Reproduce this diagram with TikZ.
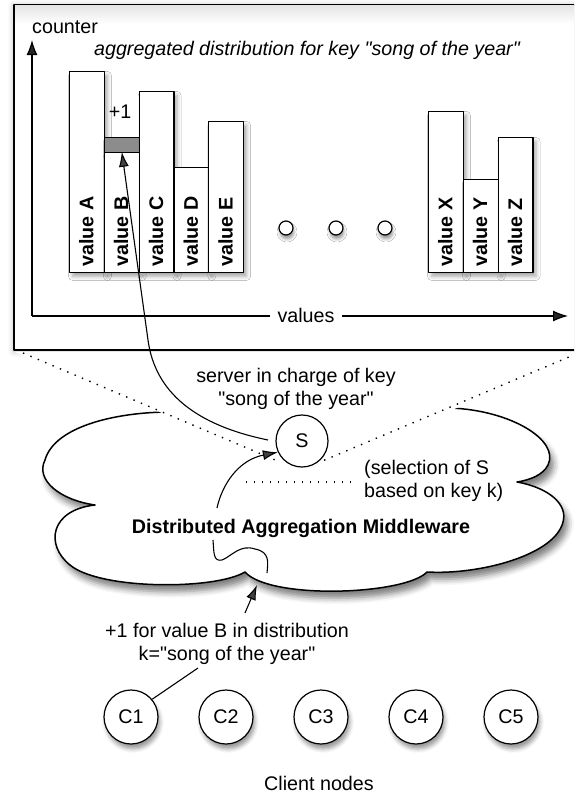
\documentclass[tikz,border=0pt]{standalone}
\usepackage{fontspec}
\setmainfont{Liberation Sans}[Ligatures=TeXOff]
\usetikzlibrary{arrows.meta,shadows,shadows.blur}

\begin{document}
\begin{tikzpicture}[x=1pt,y=-1pt,line join=round,
  every node/.style={font=\fontsize{19.7}{23}\selectfont, inner sep=0pt},
  frame/.style={draw, fill=white, line width=1.3pt,
    blur shadow={shadow xshift=0pt, shadow yshift=-1pt, shadow blur radius=6pt, shadow opacity=30}},
  bar/.style={draw, fill=white, line width=1.2pt, minimum width=34.8pt, anchor=south west,
    blur shadow={shadow xshift=3pt, shadow yshift=-4pt, shadow blur radius=4pt, shadow opacity=35}},
  bartext/.style={rotate=90, anchor=west, font=\fontsize{19.7}{23}\selectfont\bfseries},
  gap/.style={circle, draw, fill=white, line width=1.2pt, minimum size=14pt,
    blur shadow={shadow xshift=1pt, shadow yshift=-4pt, shadow blur radius=3pt, shadow opacity=40}},
  axis/.style={line width=1.2pt, -{Latex[length=15pt,width=11pt]}},
  arr/.style={line width=1.1pt, -{Latex[length=15pt,width=10pt]}},
  link/.style={line width=1.1pt},
  dots/.style={line width=1.4pt, dash pattern=on 1.4pt off 6.6pt},
  cloudshape/.style={draw, fill=white, line width=1.5pt,
    blur shadow={shadow xshift=4pt, shadow yshift=-7pt, shadow blur radius=6pt, shadow opacity=50}},
  peer/.style={circle, draw, fill=white, line width=1.2pt, minimum size=54pt,
    blur shadow={shadow xshift=2pt, shadow yshift=-5pt, shadow blur radius=4pt, shadow opacity=40}},
  server/.style={circle, draw, fill=white, line width=1.2pt, minimum size=52pt}
]
\useasboundingbox (0,0) rectangle (574,798);
\clip (0,0) rectangle (574,798);

% ---------- distribution panel ----------
\draw[frame] (14,5) rectangle (600,350);
\shade[top color=black!10, bottom color=white] (15,5.7) rectangle (574,24);

\coordinate (O) at (32,316);
\coordinate (ytip) at (32,40);
\coordinate (xtip) at (568,316);
\draw[axis] (O) -- (ytip);
\draw[axis] (O) -- (xtip);
\node[fill=white, inner xsep=8pt, inner ysep=3pt] (vals) at (306,315) {values};
\node[anchor=base west] (cnt) at (32,33) {counter};
\node[anchor=base, font=\fontsize{19.7}{23}\selectfont\itshape] (title) at (307,55)
  {aggregated distribution for key "song of the year"};

% bars of the histogram
\node[bar, minimum height=201pt] (bA) at (69,273) {};
\node[bar, minimum height=15pt, fill=black!45] (bBg) at (103.8,153) {};
\node[bar, minimum height=120pt] (bB) at (103.8,273) {};
\node[bar, minimum height=181pt] (bC) at (138.6,273) {};
\node[bar, minimum height=105pt] (bD) at (173.4,273) {};
\node[bar, minimum height=151pt] (bE) at (208.2,273) {};
\node[bar, minimum height=161pt] (bX) at (428,273) {};
\node[bar, minimum height=93pt] (bY) at (462.8,273) {};
\node[bar, minimum height=135pt] (bZ) at (497.6,273) {};

\node[bartext] (tA) at (86.4,267) {value A};
\node[bartext] (tB) at (121.2,267) {value B};
\node[bartext] (tC) at (156.0,267) {value C};
\node[bartext] (tD) at (190.8,267) {value D};
\node[bartext] (tE) at (225.6,267) {value E};
\node[bartext] (tX) at (445.4,267) {value X};
\node[bartext] (tY) at (480.2,267) {value Y};
\node[bartext] (tZ) at (515.0,267) {value Z};
\node[anchor=base] (inc) at (120,118) {+1};

\node[gap] (g1) at (286,228) {};
\node[gap] (g2) at (336,228) {};
\node[gap] (g3) at (385,228) {};

% ---------- middleware cloud ----------
\draw[cloudshape] (95,505)
  .. controls (60,500) and (35,480) .. (45,460)
  .. controls (55,425) and (120,412) .. (170,412)
  .. controls (250,405) and (380,400) .. (450,408)
  .. controls (510,410) and (560,440) .. (548,465)
  .. controls (543,475) and (530,480) .. (517,482)
  .. controls (550,488) and (568,505) .. (563,522)
  .. controls (555,555) and (480,575) .. (427,572)
  .. controls (405,595) and (270,600) .. (245,572)
  .. controls (215,590) and (100,590) .. (70,565)
  .. controls (45,545) and (50,510) .. (95,505) -- cycle;

% zoom cone from the server up to the panel
\coordinate (fl) at (23,353);
\coordinate (fr) at (576,354);
\coordinate (cl1) at (280,462);
\coordinate (cr1) at (320,462);
\fill[white] (14,351.5) -- (cl1) -- (cr1) -- (600,351.5) -- cycle;
\draw[dots] (fl) -- (cl1);
\draw[dots] (fr) -- (cr1);

\node[server] (S) at (302,441) {S};
\node[align=center] (srvlbl) at (296,388.5) {server in charge of key\\"song of the year"};

\coordinate (sl) at (268,440);
\coordinate (bend) at (148,340);
\draw[arr] (sl) .. controls (195,425) and (155,392) .. (bend) -- (bB.north);

\node[align=left, anchor=west] (sel) at (364,480.5) {(selection of S\\based on key k)};
\coordinate (hd1) at (246,482);
\coordinate (hd2) at (357,482);
\draw[dots] (hd1) -- (hd2);

\node[anchor=base, font=\fontsize{19.7}{23}\selectfont\bfseries] (dam) at (301,533)
  {Distributed Aggregation Middleware};

% route of the update through the middleware
\coordinate (w0) at (213,540);
\coordinate (w1) at (267,573);
\draw[link] (w0) .. controls (214,552) and (213,562) .. (222,560)
  .. controls (232,556) and (240,544) .. (255,549)
  .. controls (270,552) and (268,562) .. (w1);
\coordinate (cm) at (217,508);
\draw[arr] (cm) .. controls (222,485) and (238,460) .. (S.205);

% ---------- clients ----------
\node[align=center] (upd) at (227,643.5) {+1 for value B in distribution\\k="song of the year"};
\coordinate (upA) at (245,613);
\coordinate (upB) at (257,585);
\draw[arr] (upA) -- (upB);

\node[peer] (C1) at (131,717) {C1};
\node[peer] (C2) at (226,717) {C2};
\node[peer] (C3) at (321,717) {C3};
\node[peer] (C4) at (416,717) {C4};
\node[peer] (C5) at (511,717) {C5};
\coordinate (cl) at (198,668);
\draw[link] (C1.40) -- (cl);

\node[anchor=base] (clients) at (319,790) {Client nodes};
\end{tikzpicture}
\end{document}
